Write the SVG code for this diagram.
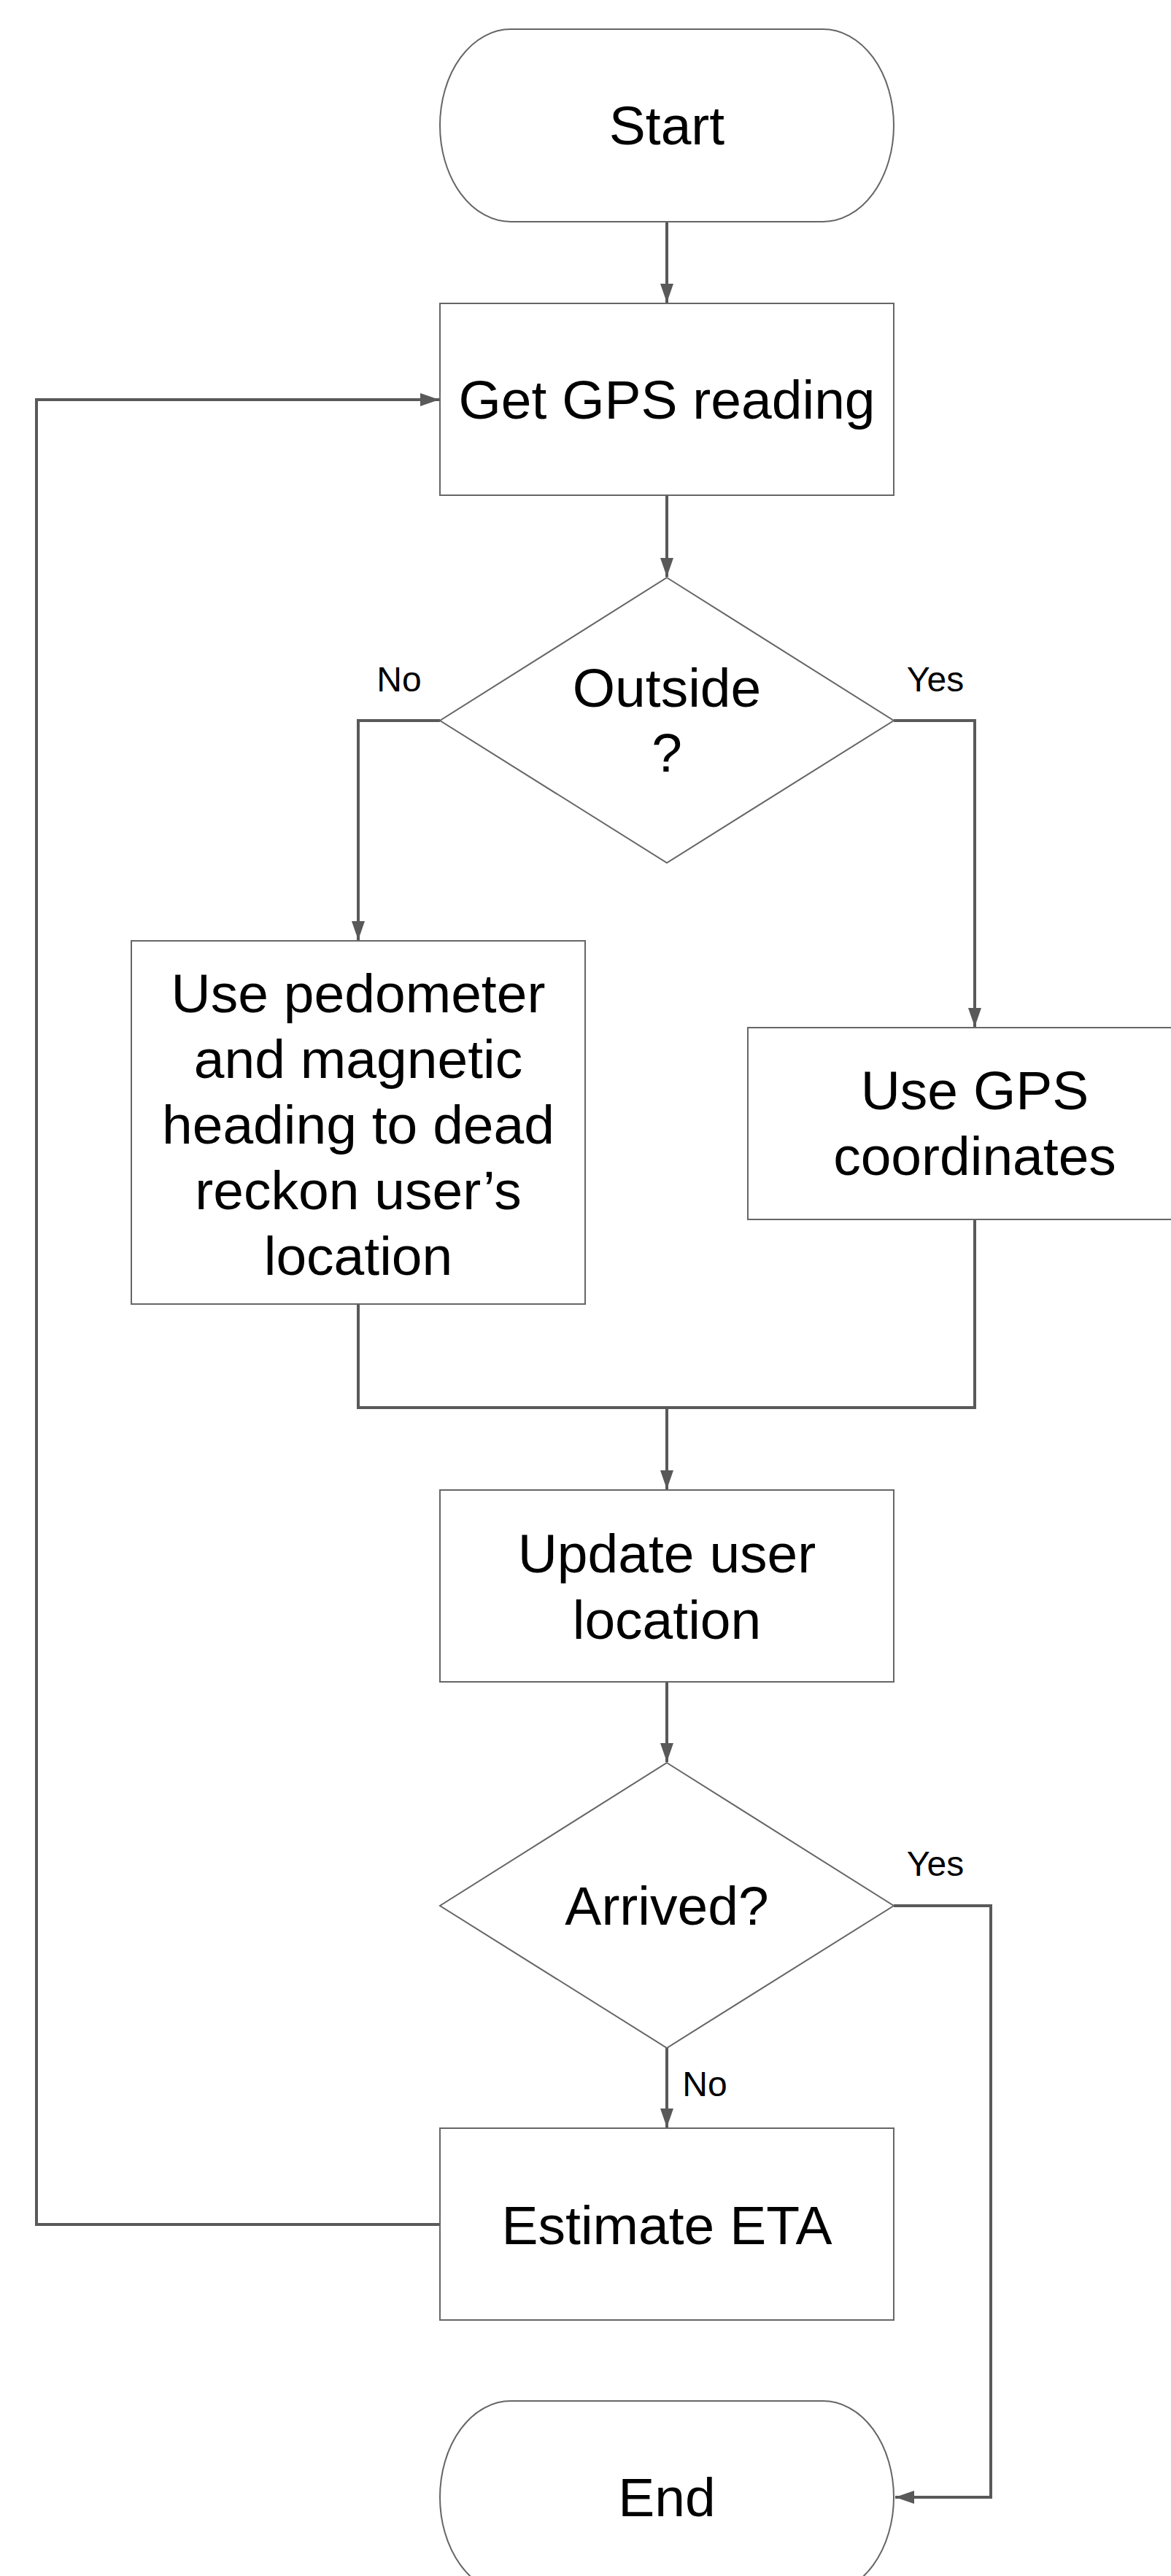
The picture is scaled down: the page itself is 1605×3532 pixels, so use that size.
<svg xmlns="http://www.w3.org/2000/svg" width="1605" height="3532" viewBox="0 0 1605 3532">
<style>
.shape{fill:#ffffff;stroke:#666666;stroke-width:2}
.conn{fill:none;stroke:#595959;stroke-width:4}
.t{font-family:"Liberation Sans",Arial,sans-serif;font-size:75px;fill:#000000;text-anchor:middle}
.lbl{font-family:"Liberation Sans",Arial,sans-serif;font-size:48px;fill:#000000;text-anchor:middle}
</style>
<defs>
<marker id="arrow" markerUnits="userSpaceOnUse" markerWidth="28" markerHeight="22" viewBox="0 0 28 22" refX="26" refY="11" orient="auto">
<path d="M0,2 L26,11 L0,20 Z" fill="#595959"/>
</marker>
</defs>
<rect width="1605" height="3532" fill="#ffffff"/>
<g id="connectors">
<path class="conn" d="M914,304 L914,415" marker-end="url(#arrow)"/>
<path class="conn" d="M914,679 L914,791" marker-end="url(#arrow)"/>
<path class="conn" d="M603,988 L491,988 L491,1289" marker-end="url(#arrow)"/>
<path class="conn" d="M1225,988 L1336,988 L1336,1408" marker-end="url(#arrow)"/>
<path class="conn" d="M491,1788 L491,1930 L1336,1930 L1336,1672"/>
<path class="conn" d="M914,1930 L914,2042" marker-end="url(#arrow)"/>
<path class="conn" d="M914,2306 L914,2416" marker-end="url(#arrow)"/>
<path class="conn" d="M914,2808 L914,2917" marker-end="url(#arrow)"/>
<path class="conn" d="M1225,2613 L1358,2613 L1358,3424 L1227,3424" marker-end="url(#arrow)"/>
<path class="conn" d="M603,3050 L50,3050 L50,548 L602,548" marker-end="url(#arrow)"/>
</g>
<g id="start">
<rect class="shape" x="603" y="40" width="622" height="264" rx="97" ry="132"/>
<text class="t" x="914" y="198">Start</text>
</g>
<g id="get-gps">
<rect class="shape" x="603" y="416" width="622" height="263"/>
<text class="t" x="914" y="574">Get GPS reading</text>
</g>
<g id="outside">
<polygon class="shape" points="914,792 1225,988 914,1183 603,988"/>
<text class="t" x="914" y="969">Outside</text>
<text class="t" x="914" y="1058">?</text>
</g>
<g id="dead-reckon">
<rect class="shape" x="180" y="1290" width="622" height="498"/>
<text class="t" x="491" y="1388">Use pedometer</text>
<text class="t" x="491" y="1478">and magnetic</text>
<text class="t" x="491" y="1568">heading to dead</text>
<text class="t" x="491" y="1658">reckon user’s</text>
<text class="t" x="491" y="1748">location</text>
</g>
<g id="use-gps">
<rect class="shape" x="1025" y="1409" width="622" height="263"/>
<text class="t" x="1336" y="1521">Use GPS</text>
<text class="t" x="1336" y="1611">coordinates</text>
</g>
<g id="update">
<rect class="shape" x="603" y="2043" width="622" height="263"/>
<text class="t" x="914" y="2156">Update user</text>
<text class="t" x="914" y="2247">location</text>
</g>
<g id="arrived">
<polygon class="shape" points="914,2417 1225,2613 914,2808 603,2613"/>
<text class="t" x="914" y="2639">Arrived?</text>
</g>
<g id="estimate">
<rect class="shape" x="603" y="2918" width="622" height="263"/>
<text class="t" x="914" y="3077">Estimate ETA</text>
</g>
<g id="end">
<rect class="shape" x="603" y="3292" width="622" height="264" rx="97" ry="132"/>
<text class="t" x="914" y="3450">End</text>
</g>
<g id="labels">
<text class="lbl" x="547" y="948">No</text>
<text class="lbl" x="1282" y="948">Yes</text>
<text class="lbl" x="1282" y="2572">Yes</text>
<text class="lbl" x="966" y="2874">No</text>
</g>
</svg>
